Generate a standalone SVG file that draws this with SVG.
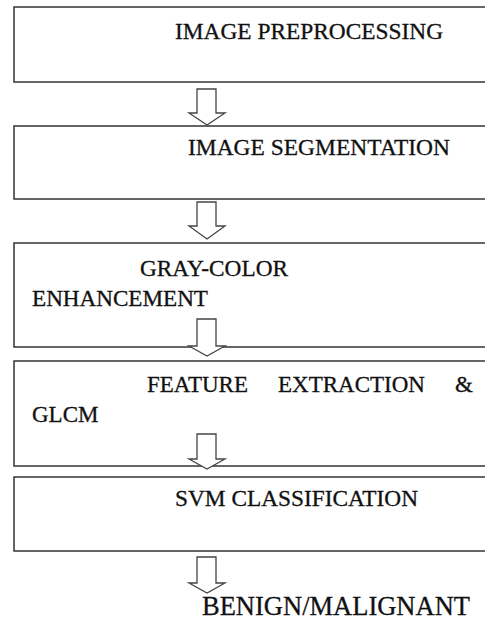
<svg xmlns="http://www.w3.org/2000/svg" width="485" height="620" viewBox="0 0 485 620">
<style>
.box{fill:#fff;stroke:#333;stroke-width:1.5}
.t{font-family:'Liberation Serif','Times New Roman',serif;font-size:23px;fill:#111;stroke:#111;stroke-width:0.3}
.arr{fill:#fff;stroke:#444;stroke-width:1.3;stroke-linejoin:miter}
</style>
<rect width="485" height="620" fill="#fff"/>
<g id="n1"><rect class="box" x="14" y="7" width="490" height="75"/><text class="t" x="175" y="39" textLength="268" lengthAdjust="spacingAndGlyphs">IMAGE PREPROCESSING</text></g>
<g id="n2"><rect class="box" x="14" y="126" width="490" height="73"/><text class="t" x="188" y="155" textLength="262" lengthAdjust="spacingAndGlyphs">IMAGE SEGMENTATION</text></g>
<g id="n3"><rect class="box" x="14" y="243" width="490" height="104"/><text class="t" x="140" y="276" textLength="148" lengthAdjust="spacingAndGlyphs">GRAY-COLOR</text><text class="t" x="32" y="306" textLength="176" lengthAdjust="spacingAndGlyphs">ENHANCEMENT</text></g>
<g id="n4"><rect class="box" x="14" y="361" width="490" height="105"/><text class="t" y="392"><tspan x="147">FEATURE</tspan><tspan x="278">EXTRACTION</tspan><tspan x="455">&amp;</tspan></text><text class="t" x="32" y="422">GLCM</text></g>
<g id="n5"><rect class="box" x="14" y="477" width="490" height="74"/><text class="t" x="175" y="506" textLength="243" lengthAdjust="spacingAndGlyphs">SVM CLASSIFICATION</text></g>
<g id="n6"><text class="t" x="202" y="615" style="font-size:26.5px" textLength="268" lengthAdjust="spacingAndGlyphs">BENIGN/MALIGNANT</text></g>
<g id="connectors">
<polygon class="arr" points="197,89 216,89 216,113 225,113 207,125 189,113 197,113"/>
<polygon class="arr" points="197,202 216,202 216,226 225,226 207,239 189,226 197,226"/>
<polygon class="arr" points="197,319 216,319 216,346 225,346 207,356 189,346 197,346"/>
<polygon class="arr" points="197,434 216,434 216,459 225,459 207,469 189,459 197,459"/>
<polygon class="arr" points="197,557 216,557 216,583 225,583 207,593 189,583 197,583"/>
</g>
</svg>
